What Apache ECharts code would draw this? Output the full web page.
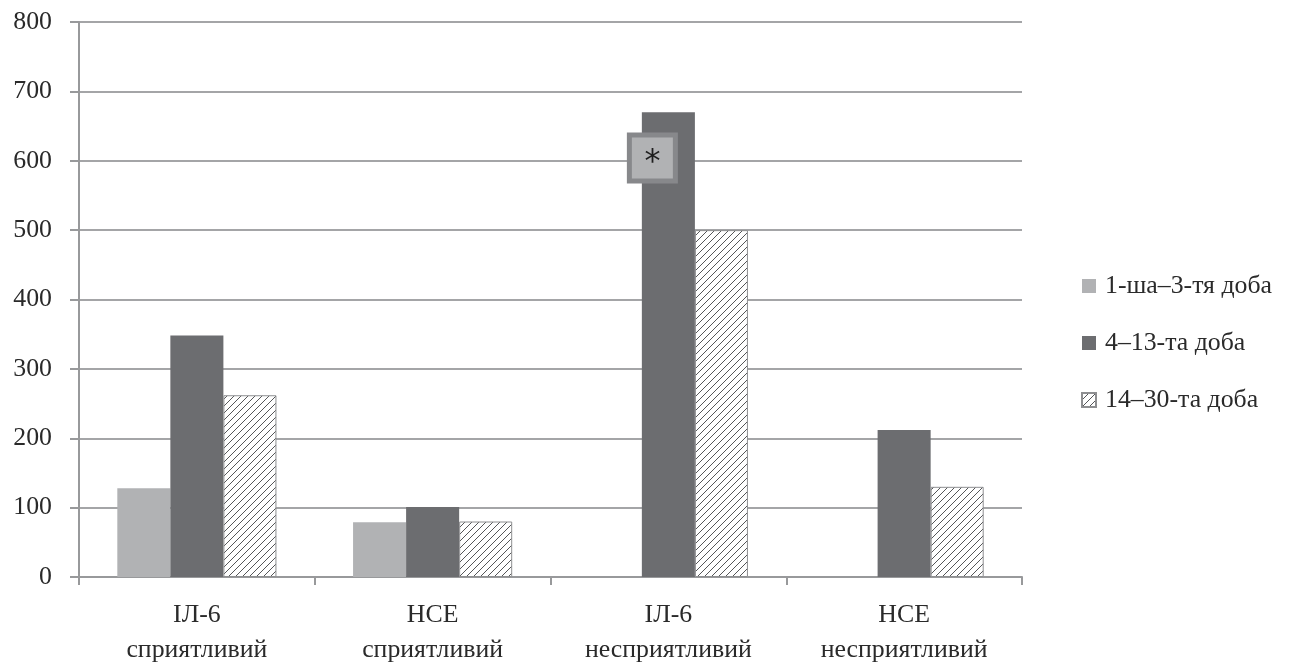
<!DOCTYPE html>
<html>
<head>
<meta charset="utf-8">
<script src="https://cdn.jsdelivr.net/npm/echarts@6/dist/echarts.min.js"></script>
<style>
html,body{margin:0;padding:0;background:#fff;}
#chart{width:1294px;height:662px;}
</style>
</head>
<body>
<div id="chart"></div>
<script>
// Categories and series values
const categories = ['ІЛ-6\nсприятливий', 'НСЕ\nсприятливий', 'ІЛ-6\nнесприятливий', 'НСЕ\nнесприятливий'];
const seriesNames = ['1-ша–3-тя доба', '4–13-та доба', '14–30-та доба'];
const days1to3 = [128, 79, null, null];
const days4to13 = [348, 101, 670, 212];
const days14to30 = [262, 80, 500, 130];
const yTicks = { min: 0, max: 800, interval: 100 };
// significance marker: [category index, value]
const starMark = [2, 604];

// diagonal hatch fill for the third series
function hatch() {
  const c = document.createElement('canvas');
  const s = 7;
  c.width = s; c.height = s;
  const g = c.getContext('2d');
  g.fillStyle = '#ffffff';
  g.fillRect(0, 0, s, s);
  g.strokeStyle = '#555658';
  g.lineWidth = 1;
  g.beginPath();
  g.moveTo(-1, s + 1); g.lineTo(s + 1, -1);
  g.moveTo(-1, 1); g.lineTo(1, -1);
  g.moveTo(s - 1, s + 1); g.lineTo(s + 1, s - 1);
  g.stroke();
  return c;
}

const serif = '"Liberation Serif", "DejaVu Serif", serif';
const chart = echarts.init(document.getElementById('chart'));
chart.setOption({
  animation: false,
  backgroundColor: '#ffffff',
  textStyle: { fontFamily: serif },
  grid: { left: 79, right: 272, top: 22, bottom: 85, containLabel: false, outerBoundsMode: 'none' },
  legend: {
    orient: 'vertical',
    left: 1076,
    top: 268,
    itemWidth: 14,
    itemHeight: 14,
    itemGap: 31,
    icon: 'rect',
    textStyle: { fontFamily: serif, fontSize: 25.8, color: '#2a2a2a', padding: [0, 0, 0, 4] },
    data: seriesNames
  },
  xAxis: {
    type: 'category',
    data: categories,
    axisLine: { lineStyle: { color: '#98999b', width: 2 } },
    axisTick: { show: true, length: 8, lineStyle: { color: '#98999b', width: 2 } },
    axisLabel: { fontFamily: serif, fontSize: 25.8, color: '#2a2a2a', lineHeight: 35, margin: 21 }
  },
  yAxis: {
    type: 'value',
    min: yTicks.min, max: yTicks.max, interval: yTicks.interval,
    axisLine: { show: true, lineStyle: { color: '#98999b', width: 2 } },
    axisTick: { show: true, length: 9, lineStyle: { color: '#98999b', width: 2 } },
    splitLine: { lineStyle: { color: '#a4a5a7', width: 2 } },
    axisLabel: { fontFamily: serif, fontSize: 25.8, color: '#2a2a2a', margin: 27 }
  },
  series: [
    {
      name: seriesNames[0], type: 'bar', data: days1to3,
      barWidth: '22.5%', barGap: '0%',
      itemStyle: { color: '#b1b2b4' }
    },
    {
      name: seriesNames[1], type: 'bar', data: days4to13,
      barWidth: '22.5%', barGap: '0%',
      itemStyle: { color: '#6c6d70' },
      markPoint: {
        symbol: 'rect',
        symbolSize: [46, 46],
        symbolOffset: [-16, 0],
        silent: true,
        itemStyle: { color: '#b1b2b4', borderColor: '#87888b', borderWidth: 5 },
        label: { show: true, formatter: '*', fontFamily: 'DejaVu Sans', fontSize: 32, color: '#1e1e1e', offset: [0, 5] },
        data: [{ coord: starMark }]
      }
    },
    {
      name: seriesNames[2], type: 'bar', data: days14to30,
      barWidth: '22.5%', barGap: '0%',
      itemStyle: {
        color: { image: hatch(), repeat: 'repeat' },
        borderColor: '#8e8f91', borderWidth: 1
      }
    }
  ]
});
</script>
</body>
</html>
